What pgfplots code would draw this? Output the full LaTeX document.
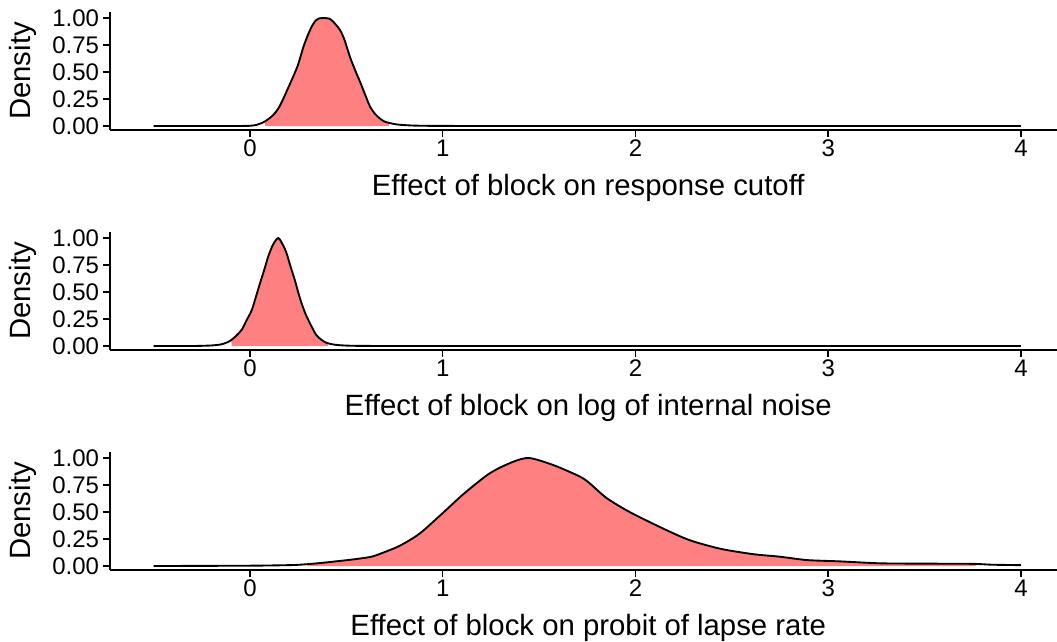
\documentclass[border=0pt]{standalone}
\usepackage{fontspec}
\setmainfont{Liberation Sans}
\usepackage{pgfplots}
\pgfplotsset{compat=1.18}
\definecolor{fillred}{RGB}{255,128,128}
\pgfplotsset{
  panel/.style={
    scale only axis, width=710.25pt, height=88.5pt,
    xmin=-0.726, xmax=4.187, ymin=-0.037, ymax=1.056,
    axis lines*=left,
    axis line style={line width=1.3pt, black, -},
    xtick={0,1,2,3,4}, xticklabels={0,1,2,3,4},
    ytick={0,0.25,0.5,0.75,1}, yticklabels={0.00,0.25,0.50,0.75,1.00},
    tick align=outside, major tick length=5pt,
    tick style={line width=1.1pt, black},
    /pgf/number format/assume math mode=true,
    ticklabel style={font=\fontsize{18}{21}\selectfont, text=black},
    xticklabel style={inner sep=2pt},
    yticklabel style={inner sep=3pt},
    label style={font=\fontsize{22}{26}\selectfont, text=black},
    ylabel={Density},
    ylabel style={at={(axis description cs:-0.092,0.5)}, anchor=center},
    xlabel style={at={(axis description cs:0.505,-0.49)}, anchor=center},
    clip=false,
  },
  curve/.style={line width=1.4pt, black, no markers, smooth, tension=0.45},
  filled/.style={draw=none, fill=fillred, no markers, smooth, tension=0.45},
}
\begin{document}
\begin{tikzpicture}
\path[use as bounding box] (0pt,0pt) rectangle (792.75pt,-481.5pt);
% Panel 1
\begin{axis}[panel, at={(82.5pt,-97.5pt)}, anchor=south west,
  xlabel={Effect of block on response cutoff}]
\addplot[filled] coordinates {
(0.08,0) (0.08,0.045) (0.12,0.10) (0.15,0.17) (0.175,0.26) (0.2,0.36) (0.225,0.46) (0.25,0.57) (0.277,0.73) (0.30,0.84) (0.32,0.92) (0.34,0.975) (0.355,0.995) (0.38,1.0) (0.41,0.995) (0.43,0.97) (0.467,0.89) (0.49,0.80) (0.519,0.64) (0.545,0.52) (0.571,0.41) (0.60,0.28) (0.623,0.18) (0.65,0.11) (0.674,0.07) (0.70,0.04) (0.72,0.03) (0.72,0)} -- cycle;
\addplot[curve] coordinates {
(-0.5,0) (-0.2,0) (0,0.002) (0.05,0.02) (0.08,0.045) (0.12,0.10) (0.15,0.17) (0.175,0.26) (0.2,0.36) (0.225,0.46) (0.25,0.57) (0.277,0.73) (0.30,0.84) (0.32,0.92) (0.34,0.975) (0.355,0.995) (0.38,1.0) (0.41,0.995) (0.43,0.97) (0.467,0.89) (0.49,0.80) (0.519,0.64) (0.545,0.52) (0.571,0.41) (0.60,0.28) (0.623,0.18) (0.65,0.11) (0.674,0.07) (0.70,0.04) (0.76,0.015) (0.85,0.004) (1.0,0.001) (1.5,0) (4,0)};
\end{axis}
% Panel 2
\begin{axis}[panel, at={(82.5pt,-262.5pt)}, anchor=south west,
  xlabel={Effect of block on log of internal noise}]
\addplot[filled] coordinates {
(-0.095,0) (-0.095,0.06) (-0.08,0.08) (-0.043,0.15) (-0.02,0.23) (0.009,0.33) (0.03,0.45) (0.052,0.58) (0.075,0.71) (0.095,0.83) (0.12,0.94) (0.147,1.0) (0.17,0.94) (0.19,0.86) (0.21,0.74) (0.233,0.61) (0.25,0.50) (0.268,0.395) (0.29,0.29) (0.32,0.18) (0.345,0.10) (0.372,0.056) (0.405,0.025) (0.405,0)} -- cycle;
\addplot[curve] coordinates {
(-0.5,0) (-0.3,0) (-0.2,0.005) (-0.15,0.015) (-0.11,0.04) (-0.08,0.08) (-0.043,0.15) (-0.02,0.23) (0.009,0.33) (0.03,0.45) (0.052,0.58) (0.075,0.71) (0.095,0.83) (0.12,0.94) (0.147,1.0) (0.17,0.94) (0.19,0.86) (0.21,0.74) (0.233,0.61) (0.25,0.50) (0.268,0.395) (0.29,0.29) (0.32,0.18) (0.345,0.10) (0.372,0.056) (0.40,0.028) (0.44,0.012) (0.5,0.004) (0.6,0.001) (1.0,0) (4,0)};
\end{axis}
% Panel 3
\begin{axis}[panel, at={(82.5pt,-427.5pt)}, anchor=south west,
  xlabel={Effect of block on probit of lapse rate}]
\addplot[filled] coordinates {
(0.30,0) (0.30,0.018) (0.35,0.025) (0.43,0.04) (0.53,0.06) (0.63,0.086) (0.70,0.13) (0.78,0.19) (0.88,0.30) (1.00,0.49) (1.11,0.67) (1.245,0.86) (1.366,0.966) (1.45,1.0) (1.574,0.935) (1.71,0.83) (1.76,0.77) (1.85,0.63) (1.97,0.50) (2.14,0.35) (2.28,0.24) (2.44,0.16) (2.61,0.11) (2.75,0.086) (2.89,0.055) (3.06,0.043) (3.27,0.025) (3.5,0.022) (3.76,0.02) (3.76,0)} -- cycle;
\addplot[curve] coordinates {
(-0.5,0) (0,0.003) (0.2,0.008) (0.26,0.012) (0.35,0.025) (0.43,0.04) (0.53,0.06) (0.63,0.086) (0.70,0.13) (0.78,0.19) (0.88,0.30) (1.00,0.49) (1.11,0.67) (1.245,0.86) (1.366,0.966) (1.45,1.0) (1.574,0.935) (1.71,0.83) (1.76,0.77) (1.85,0.63) (1.97,0.50) (2.14,0.35) (2.28,0.24) (2.44,0.16) (2.61,0.11) (2.75,0.086) (2.89,0.055) (3.06,0.043) (3.27,0.025) (3.5,0.022) (3.75,0.02) (3.85,0.012) (4.0,0.008)};
\end{axis}
\end{tikzpicture}
\end{document}
